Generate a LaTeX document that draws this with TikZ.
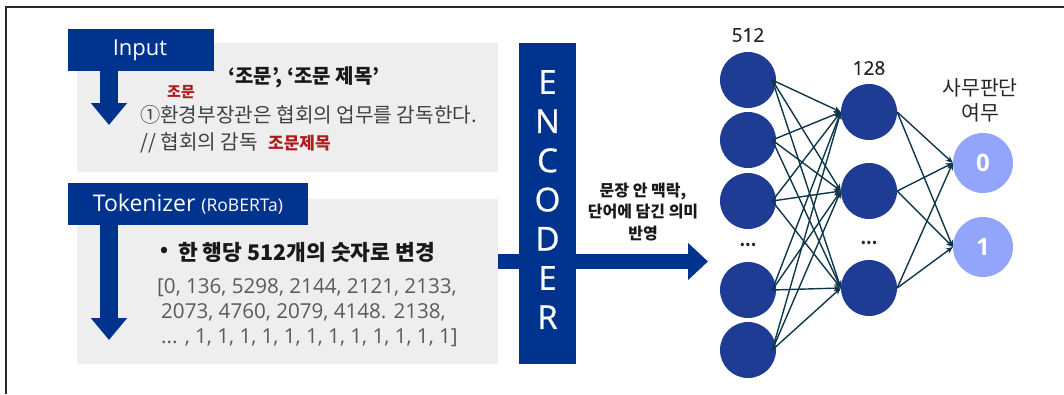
\documentclass[tikz,border=0pt]{standalone}
\usepackage{fontspec}
\setmainfont{Noto Sans CJK KR}
\newfontfamily\lat{Open Sans}
\newfontfamily\latm[FakeBold=0.8]{Open Sans}
\usetikzlibrary{arrows.meta}
\definecolor{hdr}{RGB}{0,51,141}
\definecolor{boxgray}{RGB}{238,238,238}
\definecolor{nodeblue}{RGB}{30,60,148}
\definecolor{outblue}{RGB}{147,165,250}
\definecolor{edgec}{RGB}{15,55,75}
\definecolor{redt}{RGB}{176,28,28}
\definecolor{txtgray}{RGB}{64,64,64}
\definecolor{numgray}{RGB}{90,90,90}
\definecolor{framec}{RGB}{40,40,40}
\tikzset{
  hdrbox/.style={fill=hdr, anchor=north west, inner sep=0pt, text=white},
  graybox/.style={fill=boxgray, anchor=north west, inner sep=0pt},
  bigarrow/.style={draw=hdr, line width=18pt, -{Triangle[width=35pt,length=22pt]}},
  harrow/.style={draw=hdr, line width=15pt, -{Triangle[width=36pt,length=20pt]}},
  neuron/.style={circle, fill=nodeblue, minimum size=56pt, inner sep=0pt},
  outneuron/.style={circle, fill=outblue, minimum size=60pt, inner sep=0pt, text=white, font=\lat\fontsize{24}{28}\selectfont\bfseries},
  edge/.style={draw=edgec, line width=1.4pt, -{Stealth[length=7pt,width=6pt]}},
  enclet/.style={text=white, inner sep=0pt, font=\latm\fontsize{33}{40}\selectfont},
  numtxt/.style={inner sep=0pt, anchor=base west, font=\lat\fontsize{20.6}{24}\selectfont, text=numgray},
  plain/.style={inner sep=0pt}
}
\begin{document}
\begin{tikzpicture}[x=1pt,y=-1pt]
\useasboundingbox (0,0) rectangle (1064,394);
% outer frame
\coordinate (fa) at (6,394);
\coordinate (fb) at (6,7);
\coordinate (fc) at (1064,7);
\draw[framec, line width=1.3pt] (fa) -- (fb) -- (fc);

% gray boxes
\node[graybox, minimum width=421pt, minimum height=129pt] (box1) at (77,43) {};
\node[graybox, minimum width=421pt, minimum height=165pt] (box2) at (77,199) {};

% header boxes
\node[hdrbox, minimum width=146pt, minimum height=42pt] (inp) at (68,29) {};
\node[plain, text=white, font=\lat\fontsize{22}{26}\selectfont] (inptxt) at (140,50) {Input};
\node[hdrbox, minimum width=240pt, minimum height=42pt] (tok) at (68,183) {};
\node[plain, text=white, font=\lat\fontsize{23}{27}\selectfont] (toktxt) at (188,204) {Tokenizer {\fontsize{17.5}{20}\selectfont (RoBERTa)}};

% down arrows
\coordinate (a1s) at (109,71);
\coordinate (a1e) at (109,125);
\draw[bigarrow] (a1s) -- (a1e);
\coordinate (a2s) at (109,225);
\coordinate (a2e) at (109,340);
\draw[bigarrow] (a2s) -- (a2e);

% texts box 1
\node[plain, font=\fontsize{20}{24}\selectfont\bfseries, text=black!90] (t1) at (304,77) {‘조문’, ‘조문 제목’};
\node[plain, font=\fontsize{15}{18}\selectfont\bfseries, text=redt] (t2) at (181,92) {조문};
\node[plain, anchor=west, font=\fontsize{20.2}{24}\selectfont, text=txtgray] (t3) at (140,115) {①환경부장관은 협회의 업무를 감독한다.};
\node[plain, anchor=west, font=\fontsize{20.2}{24}\selectfont, text=txtgray] (t4) at (140,143) {// 협회의 감독};
\node[plain, anchor=west, font=\fontsize{17}{20}\selectfont\bfseries, text=redt] (t5) at (268,143) {조문제목};

% texts box 2
\node[plain, anchor=west, font=\fontsize{20}{24}\selectfont\bfseries, text=black!90] (t6a) at (160,252) {•};
\node[plain, anchor=west, font=\fontsize{21.5}{24}\selectfont\bfseries, text=black!90] (t6) at (178,252) {한 행당 512개의 숫자로 변경};
\node[numtxt] (t7) at (157,293) {[0, 136, 5298, 2144, 2121, 2133,};
\node[numtxt] (t8) at (161,318) {2073, 4760, 2079, 4148. 2138,};
\node[numtxt] (t9) at (161,343) {... , 1, 1, 1, 1, 1, 1, 1, 1, 1, 1, 1, 1]};

% horizontal arrow and encoder
\coordinate (hs) at (498,261.5);
\coordinate (he) at (708,261.5);
\draw[harrow] (hs) -- (he);
\node[hdrbox, minimum width=57pt, minimum height=321pt] (enc) at (519,43) {};
\foreach \l [count=\i from 0] in {E,N,C,O,D,E,R}
  \node[enclet] (enc\i) at (547.5,{82+39.2*\i}) {\l};
\node[plain, align=center, font=\fontsize{16}{21.5}\selectfont\bfseries, text=black!90] (ctx) at (643,212) {문장 안 맥락,\\단어에 담긴 의미\\반영};

% network
\foreach \y [count=\i] in {80,140,201,290,350}
  \node[neuron] (n\i) at (748,\y) {};
\foreach \y [count=\i] in {112,191,288}
  \node[neuron] (m\i) at (869,\y) {};
\node[outneuron] (o1) at (983,163) {0};
\node[outneuron] (o2) at (983,247) {1};
\node[plain, font=\fontsize{16}{20}\selectfont\bfseries, text=black!85] (d1) at (748,245) {...};
\node[plain, font=\fontsize{16}{20}\selectfont\bfseries, text=black!85] (d2) at (869,243) {...};
\node[plain, font=\latm\fontsize{19}{23}\selectfont, text=black!85] (l512) at (748,35) {512};
\node[plain, font=\latm\fontsize{19}{23}\selectfont, text=black!85] (l128) at (869,68) {128};
\node[plain, align=center, font=\fontsize{20.5}{25}\selectfont, text=black!85] (lout) at (980,100) {사무판단\\여무};

\foreach \i in {1,...,5}
  \foreach \j in {1,2,3}
    \draw[edge] ([xshift=-4pt]n\i.east) -- (m\j.west);
\foreach \j in {1,2,3}
  \foreach \k in {1,2}
    \draw[edge] (m\j.east) -- (o\k.west);
\end{tikzpicture}
\end{document}
